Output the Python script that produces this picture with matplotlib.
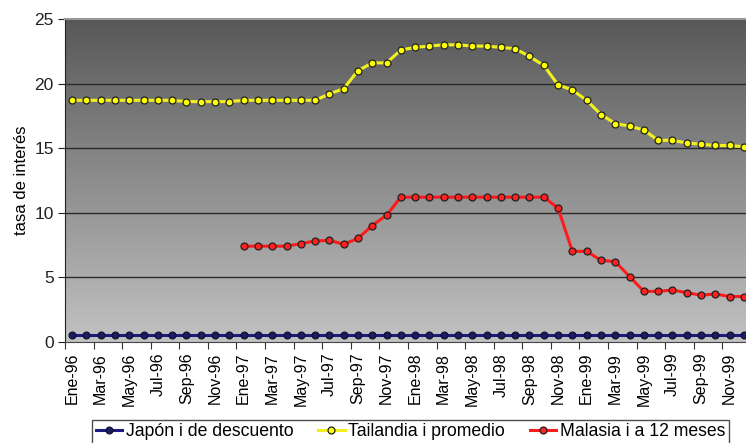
import numpy as np
import matplotlib
matplotlib.use("Agg")
import matplotlib.pyplot as plt

plt.rcParams['font.family'] = ['Liberation Sans', 'DejaVu Sans']

# months Ene-96 .. Dic-99
meses = ['Ene', 'Feb', 'Mar', 'Abr', 'May', 'Jun', 'Jul', 'Ago', 'Sep', 'Oct', 'Nov', 'Dic']
anios = ['96', '97', '98', '99']
fechas = [m + '-' + a for a in anios for m in meses]

japon = [0.5] * 48

tailandia = [18.7, 18.7, 18.7, 18.7, 18.7, 18.7, 18.7, 18.7, 18.6, 18.6, 18.6, 18.6,
             18.7, 18.7, 18.7, 18.7, 18.7, 18.7, 19.2, 19.6, 21.0, 21.6, 21.6, 22.6,
             22.8, 22.9, 23.0, 23.0, 22.9, 22.9, 22.8, 22.7, 22.1, 21.4, 19.9, 19.5,
             18.7, 17.6, 16.9, 16.7, 16.4, 15.6, 15.6, 15.4, 15.3, 15.2, 15.2, 15.1]

malasia = [np.nan] * 12 + [7.4, 7.4, 7.4, 7.4, 7.6, 7.8, 7.85, 7.55, 8.0, 9.0, 9.8, 11.2,
                           11.2, 11.2, 11.2, 11.2, 11.2, 11.2, 11.2, 11.2, 11.2, 11.2, 10.35, 7.0,
                           7.0, 6.3, 6.2, 5.05, 3.9, 3.9, 4.0, 3.8, 3.6, 3.7, 3.5, 3.5]

x = np.arange(len(fechas))

fig = plt.figure(figsize=(7.46, 4.43), dpi=100)
ax = fig.add_axes([0.0871, 0.2287, 0.9196, 0.7284])

# gradient background
grad = np.linspace(0, 1, 256).reshape(-1, 1)
cmap = matplotlib.colors.LinearSegmentedColormap.from_list('g', ['#585858', '#c2c2c2'])
ax.imshow(grad, extent=[-0.5, 47.5, 0, 25], aspect='auto', cmap=cmap, origin='upper', zorder=0)

for yv in [5, 10, 15, 20]:
    ax.axhline(yv, color='#2a2a2a', lw=1.0, zorder=1)

ax.plot(x, japon, color='#1c1c80', lw=2.2, marker='o', ms=5, mfc='#1c1c60', mec='#101030', mew=0.8, zorder=3,
        label='Japón i de descuento')
ax.plot(x, tailandia, color='#f0f020', lw=2.2, marker='o', ms=5, mfc='#ffff00', mec='#202020', mew=0.9, zorder=3,
        label='Tailandia i promedio')
ax.plot(x, malasia, color='#ff1a1a', lw=2.2, marker='o', ms=5, mfc='#ff2020', mec='#202020', mew=0.9, zorder=3,
        label='Malasia i a 12 meses')

ax.set_xlim(-0.5, 47.5)
ax.set_ylim(0, 25)
ax.set_yticks([0, 5, 10, 15, 20, 25])
ax.tick_params(axis='y', labelsize=12.5, length=5, width=0.8, pad=3, colors='#222')
ax.set_xticks(x[::2])
ax.set_xticklabels(fechas[::2], rotation=90, fontsize=11.5)
ax.set_xticks(np.arange(-0.5, 48, 2), minor=True)
ax.tick_params(axis='x', which='major', length=0, pad=8)
ax.tick_params(axis='x', which='minor', length=5, width=0.8, color='#333')
ax.set_ylabel('tasa de interés', fontsize=12, labelpad=4)

ax.spines['right'].set_visible(False)
ax.spines['top'].set_color('#999999')
ax.spines['top'].set_linewidth(1.5)
ax.spines['left'].set_color('#222')
ax.spines['bottom'].set_color('#444')

leg = fig.legend(loc='lower left', bbox_to_anchor=(0.112, -0.022), ncol=3, fontsize=12.7, frameon=True,
                 fancybox=False, edgecolor='#222', handlelength=1.5, handletextpad=0.2, columnspacing=1.4,
                 borderpad=0.2)
leg.get_frame().set_linewidth(1.0)

fig.savefig('out.png', dpi=100)
